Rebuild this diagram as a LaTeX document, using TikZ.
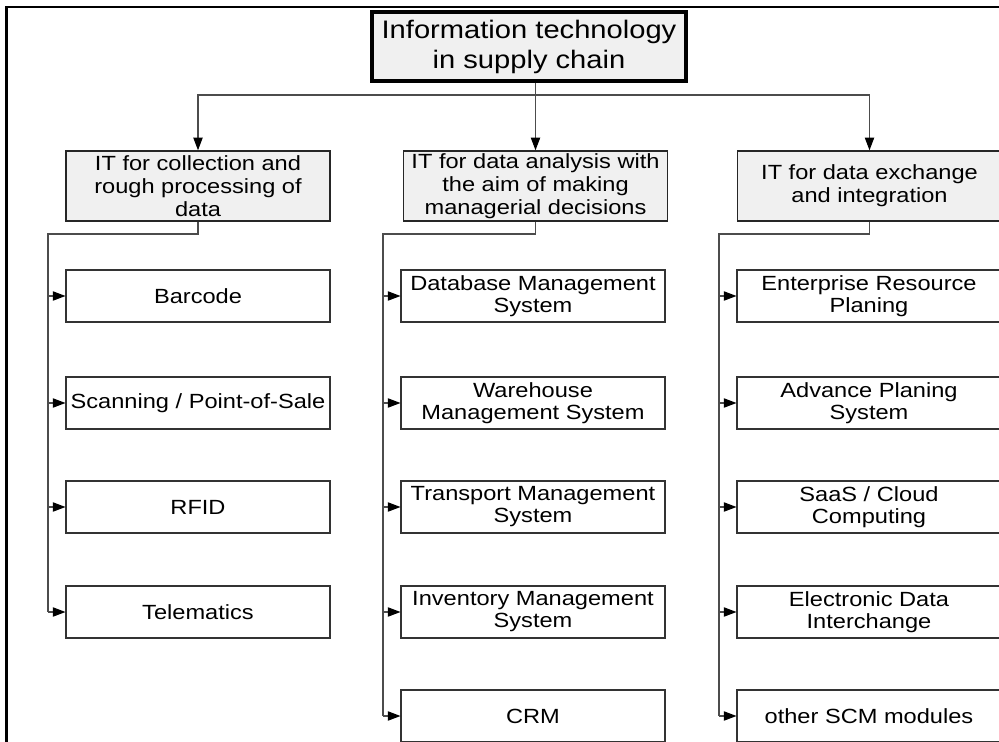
\documentclass[tikz,border=0pt]{standalone}
\usepackage{fontspec}
\setmainfont{Liberation Sans}[FakeStretch=1.15]
\usetikzlibrary{arrows.meta}

\tikzset{
  topbox/.style={draw=black, line width=2.4pt, fill=black!6, align=center, inner sep=0pt,
    minimum width=235.5pt, minimum height=51.75pt, font=\fontsize{19}{22.5}\selectfont},
  headbox/.style={draw=black!85, line width=1.1pt, fill=black!6, align=center, inner sep=0pt,
    minimum width=198pt, minimum height=52.5pt, font=\fontsize{15.4}{17.25}\selectfont},
  itembox/.style={draw=black!80, line width=0.8pt, fill=white, align=center, inner sep=0pt,
    minimum width=198pt, minimum height=39pt, font=\fontsize{15.4}{16.5}\selectfont},
  link/.style={draw=black!70, line width=0.8pt},
  arr/.style={link, -{Triangle[length=9.5pt, width=7pt, black]}},
}

\begin{document}
\begin{tikzpicture}[x=0.75pt, y=-0.75pt]
    \useasboundingbox (0,0) rectangle (999,742);
    \clip (0,0) rectangle (999,742);

    % frame
    \draw[line width=2pt] (6.5,742) -- (6.5,7) -- (999,7);

    \node[topbox] (top) at (529,46.5) {Information technology\\in supply chain};

    \node[headbox] (col) at (198,186) {IT for collection and\\rough processing of\\data};
    \node[headbox] (anl) at (535.5,186) {IT for data analysis with\\the aim of making\\managerial decisions};
    \node[headbox] (exc) at (869.5,186) {IT for data exchange\\and integration};

    \coordinate (bus) at (536,95);
    \draw[arr] (anl.north |- top.south) -- (anl.north);
    \draw[arr] (bus) -| (col.north);
    \draw[arr] (bus) -| (exc.north);

    % collection
    \node[itembox] (barcode) at (198,296) {Barcode};
    \node[itembox] (pos) at (198,403) {Scanning / Point-of-Sale};
    \node[itembox] (rfid) at (198,507) {RFID};
    \node[itembox] (telem) at (198,612) {Telematics};

    \coordinate (colrail) at (48,234);
    \draw[link] (col.south) |- (colrail) -- (colrail |- telem.west);
    \draw[arr] (colrail |- barcode.west) -- (barcode.west);
    \draw[arr] (colrail |- pos.west) -- (pos.west);
    \draw[arr] (colrail |- rfid.west) -- (rfid.west);
    \draw[arr] (colrail |- telem.west) -- (telem.west);

    % analysis
    \node[itembox] (dbms) at (533,296) {Database Management\\System};
    \node[itembox] (wms) at (533,403) {Warehouse\\Management System};
    \node[itembox] (tms) at (533,507) {Transport Management\\System};
    \node[itembox] (ims) at (533,612) {Inventory Management\\System};
    \node[itembox] (crm) at (533,716) {CRM};

    \coordinate (anlrail) at (383,234);
    \draw[link] (anl.south) |- (anlrail) -- (anlrail |- crm.west);
    \draw[arr] (anlrail |- dbms.west) -- (dbms.west);
    \draw[arr] (anlrail |- wms.west) -- (wms.west);
    \draw[arr] (anlrail |- tms.west) -- (tms.west);
    \draw[arr] (anlrail |- ims.west) -- (ims.west);
    \draw[arr] (anlrail |- crm.west) -- (crm.west);

    % exchange
    \node[itembox] (erp) at (869,296) {Enterprise Resource\\Planing};
    \node[itembox] (aps) at (869,403) {Advance Planing\\System};
    \node[itembox] (saas) at (869,507) {SaaS / Cloud\\Computing};
    \node[itembox] (edi) at (869,612) {Electronic Data\\Interchange};
    \node[itembox] (scm) at (869,716) {other SCM modules};

    \coordinate (excrail) at (719,234);
    \draw[link] (exc.south) |- (excrail) -- (excrail |- scm.west);
    \draw[arr] (excrail |- erp.west) -- (erp.west);
    \draw[arr] (excrail |- aps.west) -- (aps.west);
    \draw[arr] (excrail |- saas.west) -- (saas.west);
    \draw[arr] (excrail |- edi.west) -- (edi.west);
    \draw[arr] (excrail |- scm.west) -- (scm.west);

\end{tikzpicture}
\end{document}
